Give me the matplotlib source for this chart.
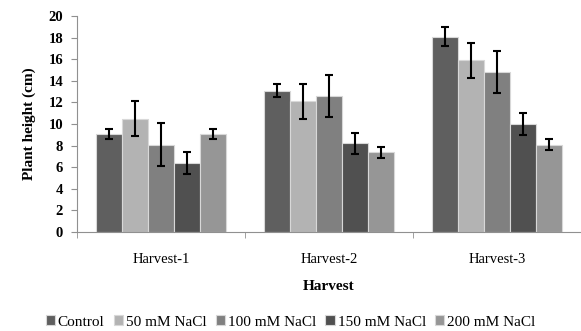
import numpy as np
import matplotlib.pyplot as plt

plt.rcParams["font.family"] = ["Liberation Serif", "DejaVu Serif"]

harvests = ["Harvest-1", "Harvest-2", "Harvest-3"]
treatments = ["Control", "50 mM NaCl", "100 mM NaCl", "150 mM NaCl", "200 mM NaCl"]

control = [9.1, 13.1, 18.1]
nacl_50 = [10.5, 12.1, 15.9]
nacl_100 = [8.1, 12.6, 14.8]
nacl_150 = [6.4, 8.2, 10.0]
nacl_200 = [9.1, 7.4, 8.1]

control_err = [0.45, 0.6, 0.9]
nacl_50_err = [1.6, 1.6, 1.6]
nacl_100_err = [2.0, 1.95, 1.95]
nacl_150_err = [1.0, 1.0, 1.0]
nacl_200_err = [0.45, 0.5, 0.5]

values = [control, nacl_50, nacl_100, nacl_150, nacl_200]
errors = [control_err, nacl_50_err, nacl_100_err, nacl_150_err, nacl_200_err]
colors = ["#5f5f5f", "#b3b3b3", "#808080", "#505050", "#969696"]

fig = plt.figure(figsize=(5.81, 3.31), dpi=100)
ax = fig.add_axes([0.1325, 0.299, 0.8675, 0.6526])

x = np.arange(len(harvests))
width = 0.155
for i, (vals, errs) in enumerate(zip(values, errors)):
    pos = x + (i - 2) * width
    ax.bar(pos, vals, width, color=colors[i], edgecolor="#d8d8d8",
           linewidth=0.8, label=treatments[i], zorder=2)
    ax.errorbar(pos, vals, yerr=errs, fmt="none", ecolor="black",
                elinewidth=1.5, capsize=3, capthick=1.5, zorder=3)

ax.set_xlim(-0.5, 2.5)
ax.set_ylim(0, 20)
ax.set_yticks(range(0, 21, 2))
for lab in ax.get_yticklabels():
    lab.set_fontweight("bold")
ax.tick_params(axis="y", labelsize=10.5, length=4, color="#909090", pad=6)

ax.set_xticks(x)
ax.set_xticklabels(harvests, fontsize=10.5)
ax.set_xticks(np.arange(-0.5, 3.0, 1.0), minor=True)
ax.tick_params(axis="x", which="major", length=0, pad=15)
ax.tick_params(axis="x", which="minor", length=4, color="#909090")

for side in ["top", "right"]:
    ax.spines[side].set_visible(False)
ax.spines["left"].set_color("#909090")
ax.spines["bottom"].set_color("#909090")

ax.set_ylabel("Plant height (cm)", fontsize=11, fontweight="bold", labelpad=9)
ax.set_xlabel("Harvest", fontsize=11, fontweight="bold", labelpad=10)

fig.legend(loc="center", bbox_to_anchor=(0.5, 0.027), ncol=5, frameon=False,
           fontsize=11, handlelength=0.6, handleheight=0.6, handletextpad=0.2,
           columnspacing=0.6)

fig.savefig("out.png", dpi=100)
